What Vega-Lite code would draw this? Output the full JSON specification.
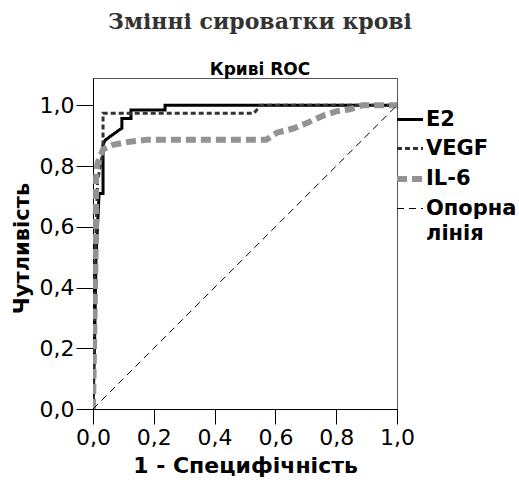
{
  "$schema": "https://vega.github.io/schema/vega-lite/v6.json",
  "width": 304,
  "height": 331,
  "autosize": {"type": "none"},
  "padding": {"left": 93, "top": 78, "right": 122, "bottom": 81},
  "background": "white",
  "config": {
    "view": {"stroke": "#555", "strokeWidth": 1},
    "font": "DejaVu Sans",
    "style": {"guide-label": {"lineHeight": 25}}
  },
  "title": {
    "text": "Змінні сироватки крові",
    "subtitle": "Криві ROC",
    "anchor": "middle",
    "frame": "group",
    "dx": 15,
    "offset": -1,
    "font": "DejaVu Serif",
    "fontSize": 22,
    "fontWeight": "bold",
    "color": "#333",
    "subtitleFont": "DejaVu Sans",
    "subtitleFontSize": 17,
    "subtitleFontWeight": "bold",
    "subtitleColor": "#000",
    "subtitlePadding": 28
  },
  "data": {
    "values": [
      {"series": "E2", "i": 0, "x": 0, "y": 0},
      {"series": "E2", "i": 1, "x": 0.005, "y": 0.2},
      {"series": "E2", "i": 2, "x": 0.01, "y": 0.5},
      {"series": "E2", "i": 3, "x": 0.02, "y": 0.71},
      {"series": "E2", "i": 4, "x": 0.033, "y": 0.71},
      {"series": "E2", "i": 5, "x": 0.033, "y": 0.87},
      {"series": "E2", "i": 6, "x": 0.04, "y": 0.885},
      {"series": "E2", "i": 7, "x": 0.06, "y": 0.9},
      {"series": "E2", "i": 8, "x": 0.095, "y": 0.925},
      {"series": "E2", "i": 9, "x": 0.095, "y": 0.957},
      {"series": "E2", "i": 10, "x": 0.125, "y": 0.957},
      {"series": "E2", "i": 11, "x": 0.125, "y": 0.985},
      {"series": "E2", "i": 12, "x": 0.237, "y": 0.985},
      {"series": "E2", "i": 13, "x": 0.237, "y": 1},
      {"series": "E2", "i": 14, "x": 1, "y": 1},
      {"series": "VEGF", "i": 0, "x": 0, "y": 0},
      {"series": "VEGF", "i": 1, "x": 0.007, "y": 0.5},
      {"series": "VEGF", "i": 2, "x": 0.015, "y": 0.75},
      {"series": "VEGF", "i": 3, "x": 0.033, "y": 0.85},
      {"series": "VEGF", "i": 4, "x": 0.033, "y": 0.974},
      {"series": "VEGF", "i": 5, "x": 0.53, "y": 0.974},
      {"series": "VEGF", "i": 6, "x": 0.55, "y": 1},
      {"series": "VEGF", "i": 7, "x": 1, "y": 1},
      {"series": "IL-6", "i": 0, "x": 0, "y": 0},
      {"series": "IL-6", "i": 1, "x": 0.005, "y": 0.3},
      {"series": "IL-6", "i": 2, "x": 0.01, "y": 0.6},
      {"series": "IL-6", "i": 3, "x": 0.01, "y": 0.76},
      {"series": "IL-6", "i": 4, "x": 0.015, "y": 0.81},
      {"series": "IL-6", "i": 5, "x": 0.033, "y": 0.855},
      {"series": "IL-6", "i": 6, "x": 0.066, "y": 0.87},
      {"series": "IL-6", "i": 7, "x": 0.12, "y": 0.88},
      {"series": "IL-6", "i": 8, "x": 0.18, "y": 0.887},
      {"series": "IL-6", "i": 9, "x": 0.57, "y": 0.887},
      {"series": "IL-6", "i": 10, "x": 0.605, "y": 0.91},
      {"series": "IL-6", "i": 11, "x": 0.66, "y": 0.924},
      {"series": "IL-6", "i": 12, "x": 0.7, "y": 0.94},
      {"series": "IL-6", "i": 13, "x": 0.76, "y": 0.967},
      {"series": "IL-6", "i": 14, "x": 0.8, "y": 0.98},
      {"series": "IL-6", "i": 15, "x": 0.845, "y": 0.987},
      {"series": "IL-6", "i": 16, "x": 0.885, "y": 1},
      {"series": "IL-6", "i": 17, "x": 1, "y": 1},
      {"series": "Опорна лінія", "i": 0, "x": 0, "y": 0},
      {"series": "Опорна лінія", "i": 1, "x": 1, "y": 1}
    ]
  },
  "mark": {"type": "line", "clip": true, "strokeCap": "butt"},
  "encoding": {
    "x": {
      "field": "x", "type": "quantitative",
      "scale": {"domain": [0, 1], "nice": false, "zero": false},
      "axis": {
        "values": [0, 0.2, 0.4, 0.6, 0.8, 1.0],
        "labelExpr": "replace(format(datum.value, '.1f'), '.', ',')",
        "title": "1 - Специфічність",
        "grid": false,
        "tickSize": 15,
        "tickColor": "#000",
        "domainColor": "#000",
        "labelFont": "DejaVu Sans",
        "labelFontSize": 22,
        "labelColor": "#000",
        "labelPadding": 3,
        "labelFlush": false,
        "labelOverlap": false,
        "titleFont": "DejaVu Sans",
        "titleFontSize": 22,
        "titleFontWeight": "bold",
        "titleColor": "#000",
        "titlePadding": 7
      }
    },
    "y": {
      "field": "y", "type": "quantitative",
      "scale": {"domain": [0, 1.09], "nice": false, "zero": false},
      "axis": {
        "values": [0, 0.2, 0.4, 0.6, 0.8, 1.0],
        "labelExpr": "replace(format(datum.value, '.1f'), '.', ',')",
        "title": "Чутливість",
        "grid": false,
        "tickSize": 17,
        "tickColor": "#000",
        "domainColor": "#000",
        "labelFont": "DejaVu Sans",
        "labelFontSize": 22,
        "labelColor": "#000",
        "labelPadding": 2,
        "labelFlush": false,
        "labelOverlap": false,
        "titleFont": "DejaVu Sans",
        "titleFontSize": 21,
        "titleFontWeight": "bold",
        "titleColor": "#000",
        "titlePadding": 7,
        "titleY": 170
      }
    },
    "order": {"field": "i", "type": "quantitative"},
    "color": {
      "field": "series", "type": "nominal",
      "scale": {"domain": ["E2", "VEGF", "IL-6", "Опорна лінія"], "range": ["#000000", "#333333", "#939393", "#000000"]},
      "legend": {
        "title": null,
        "orient": "none",
        "legendX": 301,
        "legendY": 27,
        "symbolType": "stroke",
        "symbolSize": 676,
        "labelFont": "DejaVu Sans",
        "labelFontSize": 21,
        "labelFontWeight": "bold",
        "labelColor": "#000",
        "labelOffset": 0,
        "labelLimit": 200,
        "rowPadding": 4,
        "labelExpr": "datum.label == 'Опорна лінія' ? ['Опорна', 'лінія'] : datum.label"
      }
    },
    "strokeDash": {
      "field": "series", "type": "nominal",
      "scale": {"domain": ["E2", "VEGF", "IL-6", "Опорна лінія"], "range": [[1, 0], [5, 3], [10, 5], [7, 5]]}
    },
    "strokeWidth": {
      "field": "series", "type": "nominal",
      "scale": {"type": "ordinal", "domain": ["E2", "VEGF", "IL-6", "Опорна лінія"], "range": [3, 3, 6, 1]}
    }
  }
}
